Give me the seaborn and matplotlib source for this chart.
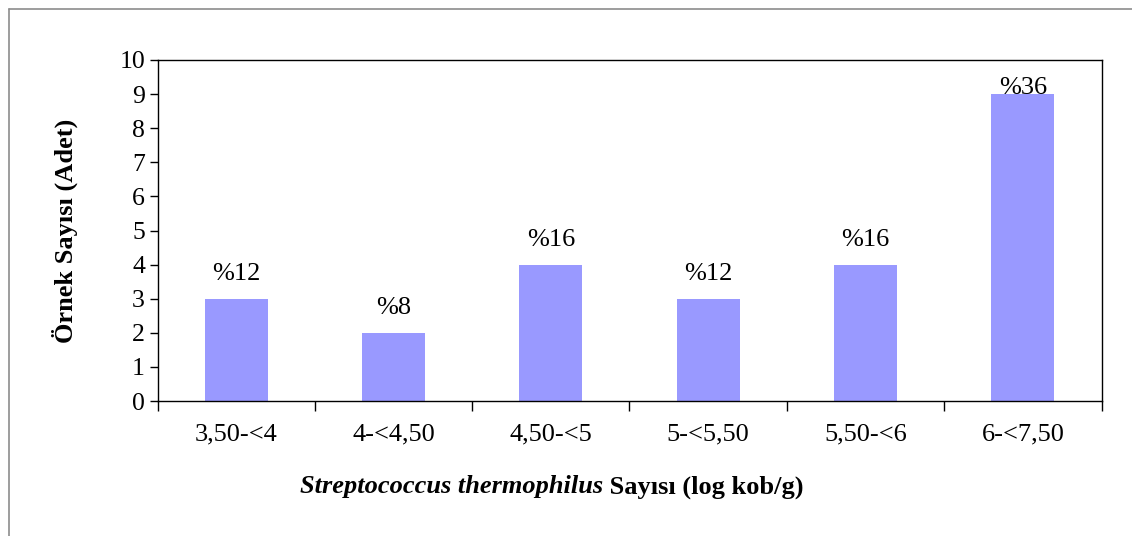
import matplotlib
matplotlib.use("Agg")
import matplotlib.pyplot as plt
import seaborn as sns
import pandas as pd
from matplotlib.lines import Line2D

# Sample counts per log-count class
categories = ["3,50-<4", "4-<4,50", "4,50-<5", "5-<5,50", "5,50-<6", "6-<7,50"]
counts = [3, 2, 4, 3, 4, 9]
percent_labels = ["%12", "%8", "%16", "%12", "%16", "%36"]

sns.set_theme(style="white")
plt.rcParams["font.family"] = ["Liberation Serif", "DejaVu Serif"]
plt.rcParams["text.color"] = "black"
plt.rcParams["axes.labelcolor"] = "black"

W, H = 1132, 536
fig = plt.figure(figsize=(W / 100, H / 100), dpi=100)
ax = fig.add_axes([157.5 / W, 1 - 401 / H, (1101.5 - 157.5) / W, (401 - 60) / H])

df = pd.DataFrame({"cat": categories, "n": counts})
sns.barplot(data=df, x="cat", y="n", color="#9999FF", saturation=1,
            width=0.4, ax=ax, edgecolor="none")

ymax = 10
ax.set_ylim(0, ymax)
ax.set_xlim(-0.5, len(categories) - 0.5)
ax.set_yticks(range(0, ymax + 1))
ax.tick_params(axis="y", labelsize=18.5, length=6, width=1, direction="out",
               left=True, colors="black", pad=3)

# category boundaries carry the tick marks, centres carry the labels
ax.set_xticks([i - 0.5 for i in range(len(categories) + 1)])
ax.set_xticklabels([])
ax.set_xticks(range(len(categories)), minor=True)
ax.set_xticklabels(categories, minor=True)
ax.tick_params(axis="x", which="major", length=7, width=1, direction="out",
               bottom=True, colors="black")
ax.tick_params(axis="x", which="minor", length=0, labelsize=19, pad=16,
               labelcolor="black")

for s in ax.spines.values():
    s.set_color("black")
    s.set_linewidth(1)
    s.set_visible(True)

# percentage labels above bars, kept inside the plot area
for i, (v, lab) in enumerate(zip(counts, percent_labels)):
    y = min(v + 0.4, ymax - 1.15)
    ax.text(i, y, lab, ha="center", va="bottom", fontsize=19, color="black")

ax.set_xlabel("")
ax.set_ylabel("Örnek Sayısı (Adet)", fontsize=19, fontweight="bold",
              color="black")
ax.yaxis.set_label_coords((78 - 157.5) / (1101.5 - 157.5), 0.5)

# x axis title: italic species name followed by upright text
t1 = fig.text(300 / W, 1 - 487 / H, "Streptococcus thermophilus", fontsize=19,
              fontweight="bold", style="italic", ha="left", va="center",
              color="black")
ax.annotate(" Sayısı (log kob/g)", xy=(1, 0.5), xycoords=t1, ha="left",
            va="center", fontsize=19, fontweight="bold", color="black",
            annotation_clip=False)

# outer chart frame
frame_col = "#8c8c8c"
fig.add_artist(Line2D([8.5 / W, 8.5 / W], [0, 1 - 8.5 / H], transform=fig.transFigure,
                      color=frame_col, lw=1.2))
fig.add_artist(Line2D([8.5 / W, 1], [1 - 8.5 / H, 1 - 8.5 / H], transform=fig.transFigure,
                      color=frame_col, lw=1.2))

fig.savefig("out.png", dpi=100, facecolor="white")
